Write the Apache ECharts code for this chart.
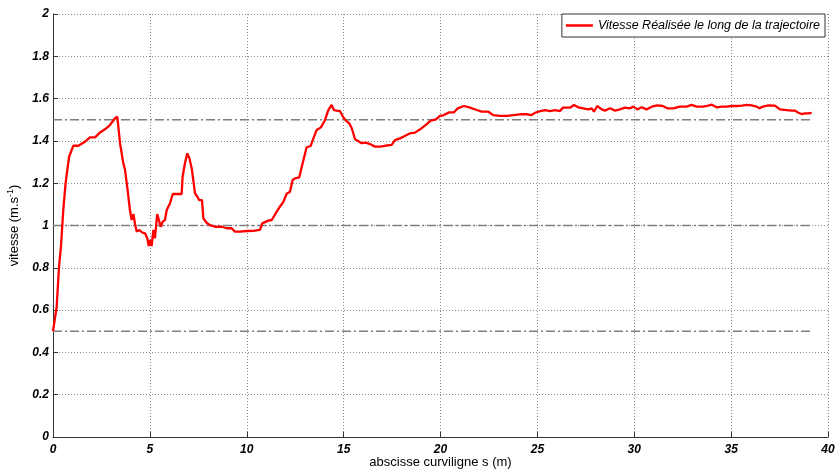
<!DOCTYPE html>
<html>
<head>
<meta charset="utf-8">
<script src="https://cdn.jsdelivr.net/npm/echarts@6/dist/echarts.min.js"></script>
<style>html,body{margin:0;padding:0;background:#fff}#c{width:835px;height:470px}</style>
</head>
<body>
<div id="c"></div>
<script>
var seriesName = 'Vitesse Réalisée le long de la trajectoire';
var sValues = [0,0.19,0.31,0.41,0.53,0.65,0.83,1.05,1.31,1.65,1.91,2.17,2.43,2.68,2.94,3.2,3.32,3.46,3.63,3.72,3.85,3.97,4.06,4.15,4.23,4.32,4.46,4.58,4.75,4.87,4.94,5.0,5.09,5.18,5.26,5.38,5.47,5.56,5.66,5.78,5.87,6.04,6.18,6.42,6.64,6.69,6.81,6.93,7.04,7.16,7.24,7.33,7.45,7.55,7.69,7.76,7.93,8.1,8.36,8.71,8.96,9.22,9.39,9.65,10.0,10.34,10.68,10.8,11.11,11.29,11.5,11.72,11.89,12.06,12.23,12.37,12.49,12.71,12.84,12.95,13.09,13.3,13.44,13.61,13.83,14.04,14.21,14.38,14.5,14.64,14.81,14.98,15.12,15.29,15.42,15.59,15.81,15.93,16.15,16.36,16.62,16.88,17.14,17.48,17.65,17.91,18.08,18.43,18.68,19.03,19.29,19.5,19.77,19.97,20.14,20.45,20.7,20.89,21.21,21.52,21.87,22.13,22.47,22.72,23.07,23.42,23.76,24.19,24.45,24.7,24.88,25.05,25.39,25.65,25.91,26.17,26.31,26.68,26.89,27.11,27.37,27.63,27.8,27.92,28.09,28.32,28.49,28.75,29.01,29.26,29.52,29.78,29.95,30.16,30.38,30.64,30.9,31.19,31.47,31.71,32.02,32.36,32.7,32.96,33.22,33.56,33.82,34.0,34.25,34.51,34.77,35.03,35.29,35.55,35.81,36.06,36.32,36.46,36.63,36.92,37.26,37.52,37.87,38.12,38.3,38.47,38.64,38.81,38.98,39.16];
var vValues = [0.5,0.616,0.805,0.9,1.073,1.2,1.325,1.377,1.377,1.396,1.417,1.417,1.44,1.455,1.475,1.507,1.514,1.389,1.294,1.262,1.168,1.073,1.026,1.054,1.01,0.971,0.979,0.968,0.963,0.939,0.903,0.931,0.903,0.979,0.939,1.054,1.06,0.994,1.018,1.026,1.073,1.105,1.149,1.149,1.149,1.231,1.294,1.341,1.318,1.27,1.215,1.152,1.136,1.12,1.12,1.034,1.013,1.002,0.994,0.994,0.987,0.987,0.971,0.971,0.974,0.975,0.979,1.01,1.023,1.026,1.058,1.09,1.112,1.15,1.16,1.215,1.223,1.228,1.278,1.318,1.37,1.376,1.412,1.452,1.464,1.499,1.546,1.57,1.546,1.543,1.541,1.512,1.496,1.483,1.46,1.408,1.396,1.389,1.392,1.385,1.373,1.373,1.377,1.381,1.404,1.412,1.42,1.436,1.439,1.46,1.479,1.496,1.502,1.518,1.521,1.535,1.535,1.554,1.565,1.557,1.546,1.538,1.538,1.522,1.518,1.518,1.522,1.527,1.526,1.522,1.533,1.538,1.546,1.541,1.546,1.541,1.557,1.557,1.57,1.559,1.554,1.549,1.554,1.538,1.565,1.549,1.543,1.554,1.543,1.549,1.557,1.554,1.562,1.549,1.559,1.549,1.562,1.568,1.565,1.554,1.554,1.562,1.562,1.57,1.562,1.562,1.567,1.571,1.559,1.562,1.562,1.565,1.565,1.567,1.57,1.568,1.562,1.554,1.562,1.568,1.567,1.549,1.546,1.543,1.543,1.533,1.527,1.53,1.53,1.533];
var refLevels = [0.5, 1, 1.5];
var refRange = [0, 39.16];
var xTicks = [0,5,10,15,20,25,30,35,40];
var yTicks = [0,0.2,0.4,0.6,0.8,1,1.2,1.4,1.6,1.8,2];

var lineData = sValues.map(function(s,i){return [s, vValues[i]];});
var series = [];
refLevels.forEach(function(l){
  series.push({
    type:'line', name:'ref'+l, data:[[refRange[0],l],[refRange[1],l]],
    symbol:'none', silent:true, z:1,
    itemStyle:{color:'#7f7f7f'},
    lineStyle:{color:'#7f7f7f', width:1.3, type:[9,3,2,3]}
  });
});
series.push({
  type:'line', name:seriesName, data:lineData, symbol:'none', z:5,
  itemStyle:{color:'#ff0000'},
  lineStyle:{color:'#ff0000', width:2.3}
});

var chart = echarts.init(document.getElementById('c'), null, {renderer:'canvas'});
var lab = {color:'#000', fontFamily:'Liberation Sans, Arial, sans-serif', fontStyle:'italic', fontWeight:'bold', fontSize:12};
chart.setOption({
  animation:false,
  backgroundColor:'#fff',
  grid:{left:53, right:7, top:14, bottom:33, containLabel:false, outerBoundsMode:'none'},
  legend:{
    data:[seriesName], right:10, top:14, icon:'rect', itemWidth:27, itemHeight:2.5,
    backgroundColor:'#fff', borderColor:'#333', borderWidth:1, borderRadius:0,
    padding:[5,5,5,4], itemGap:4,
    textStyle:{color:'#000', fontFamily:'Liberation Sans, Arial, sans-serif', fontStyle:'italic', fontSize:12.5}
  },
  xAxis:{
    type:'value', min:0, max:40, interval:5,
    name:'abscisse curviligne s (m)', nameLocation:'middle', nameGap:19, nameMoveOverlap:false,
    nameTextStyle:{color:'#000', fontFamily:'Liberation Sans, Arial, sans-serif', fontSize:13},
    axisLine:{show:true, lineStyle:{color:'#333', width:1}},
    axisTick:{show:true, inside:true, length:5, lineStyle:{color:'#333'}},
    axisLabel:Object.assign({margin:7, formatter:function(v){return xTicks.indexOf(v)>=0?String(v):'';}}, lab),
    splitLine:{show:true, lineStyle:{color:'#8c8c8c', width:1, type:[1,2]}}
  },
  yAxis:{
    type:'value', min:0, max:2, interval:0.2,
    name:'{a|vitesse (m.s}{s|-1}{a|)}', nameLocation:'middle', nameGap:30, nameMoveOverlap:false,
    nameTextStyle:{rich:{a:{color:'#000', fontFamily:'Liberation Sans, Arial, sans-serif', fontSize:13}, s:{color:'#000', fontFamily:'Liberation Sans, Arial, sans-serif', fontSize:9, verticalAlign:'top', padding:[0,0,8,0]}}},
    axisLine:{show:true, lineStyle:{color:'#333', width:1}},
    axisTick:{show:true, inside:true, length:5, lineStyle:{color:'#333'}},
    axisLabel:Object.assign({margin:4, formatter:function(v){var r=Math.round(v*10)/10; return yTicks.indexOf(r)>=0?String(r):'';}}, lab),
    splitLine:{show:true, lineStyle:{color:'#8c8c8c', width:1, type:[1,2]}}
  },
  series:series
});
</script>
</body>
</html>
